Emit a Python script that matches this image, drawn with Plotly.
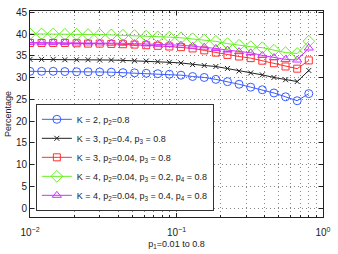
import plotly.graph_objects as go

p1 = [0.0100, 0.0120, 0.0144, 0.0173, 0.0208, 0.0249, 0.0299, 0.0359, 0.0431,
      0.0517, 0.0621, 0.0745, 0.0894, 0.1073, 0.1288, 0.1546, 0.1856, 0.2228,
      0.2674, 0.3210, 0.3853, 0.4625, 0.5552, 0.6664, 0.8000]

k2 = [31.45, 31.45, 31.45, 31.4, 31.35, 31.35, 31.3, 31.25, 31.15, 31.1, 31.0, 30.9,
      30.78, 30.56, 30.26, 30.04, 29.6, 29.07, 28.48, 27.81, 27.22, 26.48, 25.6, 24.7, 26.33]
k3a = [34.19, 34.19, 34.19, 34.11, 34.11, 34.11, 34.04, 34.04, 33.96, 33.89, 33.81, 33.67,
       33.52, 33.37, 33.0, 32.78, 32.56, 32.11, 31.52, 31.07, 30.63, 30.04, 29.52, 29.1, 31.65]
k3b = [37.96, 37.96, 37.96, 37.96, 37.89, 37.81, 37.81, 37.74, 37.67, 37.59, 37.44, 37.3,
       37.15, 37.0, 36.7, 36.26, 35.74, 35.22, 34.85, 34.48, 33.89, 33.3, 32.56, 32.06, 33.95]
k4a = [40.04, 40.04, 40.04, 39.96, 39.96, 39.89, 39.89, 39.81, 39.74, 39.67, 39.52, 39.37,
       39.3, 39.15, 38.93, 38.63, 38.33, 37.81, 37.44, 37.1, 36.88, 36.3, 35.75, 35.55, 38.35]
k4b = [38.04, 38.04, 38.04, 38.04, 37.96, 37.96, 37.96, 37.89, 37.89, 37.81, 37.74, 37.67,
       37.59, 37.44, 37.22, 37.0, 36.7, 36.33, 35.96, 35.7, 35.1, 34.6, 34.18, 34.05, 36.8]

names = [
    "K = 2, p<sub>2</sub>=0.8",
    "K = 3, p<sub>2</sub>=0.4, p<sub>3</sub> = 0.8",
    "K = 3, p<sub>2</sub>=0.04, p<sub>3</sub> = 0.8",
    "K = 4, p<sub>2</sub>=0.04, p<sub>3</sub> = 0.2, p<sub>4</sub> = 0.8",
    "K = 4, p<sub>2</sub>=0.04, p<sub>3</sub> = 0.4, p<sub>4</sub> = 0.8",
]
series = [k2, k3a, k3b, k4a, k4b]
colors = ["#3a5cff", "#222222", "#ff3030", "#66f022", "#cc33ff"]
symbols = ["circle-open", "x-thin", "square-open", "diamond-open", "triangle-up-open"]
sizes = [8, 5, 7, 9, 8]

major_x = [0.01, 0.1, 1]
major_x_text = ["10<sup>\u22122</sup>", "10<sup>\u22121</sup>", "10<sup>0</sup>"]
minor_x = [m * d for d in (0.01, 0.1) for m in range(2, 10)]
y_ticks = list(range(0, 50, 5))

fig = go.Figure()
for s, n, c, sym, sz in zip(series, names, colors, symbols, sizes):
    fig.add_trace(go.Scatter(
        x=p1, y=s, name=n, mode="lines+markers",
        line=dict(color=c, width=1),
        marker=dict(symbol=sym, size=sz, color=c, line=dict(color=c, width=1)),
    ))

grid_dash = "1px,3px"
fig.update_layout(
    width=338, height=254,
    margin=dict(l=30, r=8, t=7, b=36),
    plot_bgcolor="white", paper_bgcolor="white",
    font=dict(family="Liberation Sans, Arial, sans-serif", size=10, color="#222"),
    legend=dict(
        x=0.02, y=0.03, xanchor="left", yanchor="bottom",
        bgcolor="white", bordercolor="#333", borderwidth=1,
        font=dict(size=9), tracegroupgap=0,
    ),
    showlegend=True,
)
fig.update_xaxes(
    type="log", range=[-2, 0],
    tickmode="array", tickvals=major_x, ticktext=major_x_text,
    ticks="inside", ticklen=4, tickcolor="#222", ticklabelstandoff=6,
    ticklabeloverflow="allow",
    showline=True, linecolor="#222", linewidth=1, mirror="ticks",
    showgrid=True, gridcolor="#888", griddash=grid_dash, gridwidth=1,
    minor=dict(tickmode="array", tickvals=minor_x, ticks="inside", ticklen=2,
               tickcolor="#222", showgrid=True, gridcolor="#888", griddash=grid_dash),
    title=dict(text="p<sub>1</sub>=0.01 to 0.8", font=dict(size=9), standoff=3),
    zeroline=False,
)
fig.update_yaxes(
    range=[-2, 45.3], tickmode="array", tickvals=y_ticks,
    ticks="inside", ticklen=4, tickcolor="#222", ticklabeloverflow="allow",
    showline=True, linecolor="#222", linewidth=1, mirror="ticks",
    showgrid=True, gridcolor="#888", griddash=grid_dash, gridwidth=1,
    title=dict(text="Percentage", font=dict(size=9), standoff=2),
    zeroline=False,
)

fig.write_html("out.html", config={"displayModeBar": False},
               post_script="document.body.style.margin='0';")
